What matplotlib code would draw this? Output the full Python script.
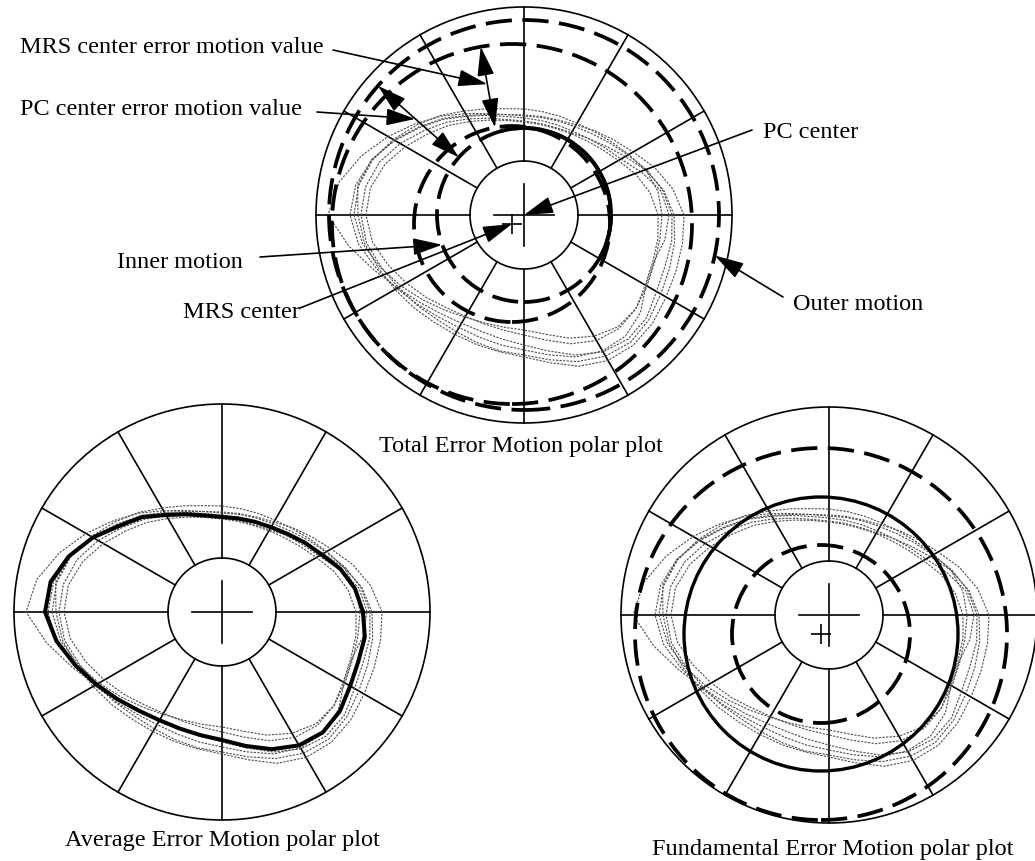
import numpy as np
import matplotlib.pyplot as plt
from matplotlib.patches import Circle, Arc

plt.rcParams['font.family'] = ['Liberation Serif', 'DejaVu Serif']

W, H = 1035, 861

# radial samples every 10 degrees, counter-clockwise from 3 o'clock
angles_deg = np.arange(0, 360, 10)

# individual revolution traces (radius, plot units; outer grid ring = 208)
trace_1 = [148, 141, 131, 120, 112, 106, 102, 100, 99, 99, 102, 108, 117, 129, 142, 157, 173, 188,
           196, 178, 160, 146, 136, 129, 125, 124, 126, 130, 138, 149, 158, 162, 160, 153, 150, 150]
trace_2 = [138, 136, 130, 121, 114, 109, 106, 105, 105, 106, 108, 113, 120, 130, 140, 151, 161, 168,
           170, 164, 153, 142, 132, 124, 118, 115, 114, 115, 121, 131, 140, 146, 146, 142, 139, 138]
trace_3 = [150, 142, 130, 117, 107, 100, 95, 93, 93, 94, 97, 103, 111, 121, 131, 143, 154, 161,
           163, 160, 152, 145, 140, 136, 135, 136, 138, 140, 147, 156, 163, 166, 163, 158, 155, 153]
trace_4 = [134, 128, 119, 109, 102, 97, 94, 92, 92, 93, 96, 101, 108, 117, 126, 137, 148, 156,
           158, 154, 145, 136, 128, 121, 117, 116, 117, 120, 127, 137, 145, 148, 146, 140, 137, 136]
trace_5 = [145, 139, 125, 112, 105, 100, 97, 96, 96, 97, 100, 106, 114, 125, 136, 149, 162, 171,
           174, 168, 157, 147, 139, 133, 130, 130, 132, 135, 142, 151, 157, 158, 152, 141, 138, 143]
trace_6 = [160, 151, 139, 126, 117, 110, 104, 101, 100, 100, 102, 107, 115, 126, 137, 150, 162, 169,
           166, 162, 155, 149, 144, 140, 138, 138, 139, 142, 150, 161, 168, 170, 168, 164, 162, 161]
traces = [trace_1, trace_2, trace_3, trace_4, trace_5, trace_6]

# average error motion (thick curve)
average_r = [141, 135, 126, 115, 108, 102, 98, 96, 95, 95, 98, 104, 112, 124, 134, 149, 163, 174,
             177, 168, 156, 145, 136, 129, 125, 124, 125, 128, 136, 146, 154, 157, 154, 148, 145, 145]

# polar grid
grid_outer = 208
grid_inner = 54
spoke_angles = np.arange(0, 360, 30)
cross_half = 30

# total error motion: centres and min/max circles
pc_center = (0, 0)
mrs_center = (-12, -9)
pc_outer_r, pc_inner_r = 195, 87
mrs_outer_r, mrs_inner_r = 180, 98
pc_solid_arc = (-28, 105)
mrs_value_angle = 100
pc_value_angle = 138.5
inner_motion_angle = 200
outer_motion_angle = -12

# fundamental error motion
fund_center = (-8, -19)
fund_r = 137
fund_outer_r, fund_inner_r = 186, 89

DASH = (0, (7, 2.8))
FS = 17.5

fig = plt.figure(figsize=(W / 100, H / 100), dpi=100)


def panel(cx, cy, half=215):
    ax = fig.add_axes([(cx - half) / W, (H - cy - half) / H, 2 * half / W, 2 * half / H])
    ax.set_xlim(-half, half)
    ax.set_ylim(-half, half)
    ax.axis('off')
    return ax


def draw_grid(ax):
    ax.add_patch(Circle((0, 0), grid_outer, fill=False, lw=1.2, color='k'))
    ax.add_patch(Circle((0, 0), grid_inner, fill=False, lw=1.2, color='k'))
    for a in np.radians(spoke_angles):
        ax.plot([grid_inner * np.cos(a), grid_outer * np.cos(a)],
                [grid_inner * np.sin(a), grid_outer * np.sin(a)], color='k', lw=1.2)
    ax.plot([-cross_half, cross_half], [0, 0], color='k', lw=1.2)
    ax.plot([0, 0], [-cross_half - 1, cross_half + 1], color='k', lw=1.2)


def draw_traces(ax):
    t = np.radians(np.append(angles_deg, 360))
    for tr in traces:
        r = np.append(tr, tr[0])
        ax.plot(r * np.cos(t), r * np.sin(t), color='0.3', lw=0.8, ls=(0, (2, 1.2)))


def circ(ax, c, r, solid=False, lw=2.7):
    ax.add_patch(Circle(c, r, fill=False, color='k', lw=lw, ls='-' if solid else DASH, zorder=4))


def pt(c, r, ang):
    a = np.radians(ang)
    return (c[0] + r * np.cos(a), c[1] + r * np.sin(a))


def arrow(ax, tip, start, style='-|>'):
    ax.annotate('', xy=tip, xytext=start, annotation_clip=False,
                arrowprops=dict(arrowstyle=style + ',head_length=1.2,head_width=0.35',
                                color='k', lw=1.2, mutation_scale=15,
                                shrinkA=0, shrinkB=0), zorder=6)


# ---- Total error motion (top) ----
ax1 = panel(524, 215)
draw_grid(ax1)
draw_traces(ax1)
circ(ax1, pc_center, pc_outer_r)
circ(ax1, pc_center, pc_inner_r)
circ(ax1, mrs_center, mrs_outer_r)
circ(ax1, mrs_center, mrs_inner_r)
ax1.add_patch(Arc(pc_center, 2 * pc_inner_r, 2 * pc_inner_r, theta1=pc_solid_arc[0],
                  theta2=pc_solid_arc[1], color='k', lw=2.8, zorder=4))
ax1.plot(*mrs_center, marker='+', ms=15, mew=1.2, color='k')

# double arrows for error motion values
arrow(ax1, pt(mrs_center, mrs_outer_r, mrs_value_angle), pt(mrs_center, mrs_inner_r, mrs_value_angle), '<|-|>')
arrow(ax1, pt(pc_center, pc_outer_r, pc_value_angle), pt(pc_center, pc_inner_r, pc_value_angle), '<|-|>')

ax1.text(-504, 162, 'MRS center error motion value', fontsize=FS, ha='left', va='baseline')
arrow(ax1, pt(mrs_center, 142, mrs_value_angle), (-191, 165))
ax1.text(-504, 100, 'PC center error motion value', fontsize=FS, ha='left', va='baseline')
arrow(ax1, pt(pc_center, 145, pc_value_angle), (-207, 103))
ax1.text(239, 77, 'PC center', fontsize=FS, ha='left', va='baseline')
arrow(ax1, pc_center, (228, 85))
ax1.text(-407, -53, 'Inner motion', fontsize=FS, ha='left', va='baseline')
arrow(ax1, pt(pc_center, pc_inner_r, inner_motion_angle), (-264, -42))
ax1.text(-224, -103, 'MRS center', fontsize=FS, ha='right', va='baseline')
arrow(ax1, mrs_center, (-224, -93))
ax1.text(269, -95, 'Outer motion', fontsize=FS, ha='left', va='baseline')
arrow(ax1, pt(pc_center, pc_outer_r, outer_motion_angle), (259, -82))
ax1.text(-3, -237, 'Total Error Motion polar plot', fontsize=FS, ha='center', va='baseline')

# ---- Average error motion (bottom left) ----
ax2 = panel(222, 612)
draw_grid(ax2)
draw_traces(ax2)
t = np.radians(np.append(angles_deg, 360))
r = np.append(average_r, average_r[0])
ax2.plot(r * np.cos(t), r * np.sin(t), color='k', lw=2.9, zorder=5, solid_joinstyle='round')
ax2.text(0, -234, 'Average Error Motion polar plot', fontsize=FS, ha='center', va='baseline')

# ---- Fundamental error motion (bottom right) ----
ax3 = panel(829, 615)
draw_grid(ax3)
draw_traces(ax3)
circ(ax3, fund_center, fund_r, solid=True, lw=2.4)
circ(ax3, fund_center, fund_outer_r)
circ(ax3, fund_center, fund_inner_r)
ax3.plot(*fund_center, marker='+', ms=15, mew=1.2, color='k')
ax3.text(4, -240, 'Fundamental Error Motion polar plot', fontsize=FS, ha='center', va='baseline')

fig.savefig('out.png', dpi=100, facecolor='white')
